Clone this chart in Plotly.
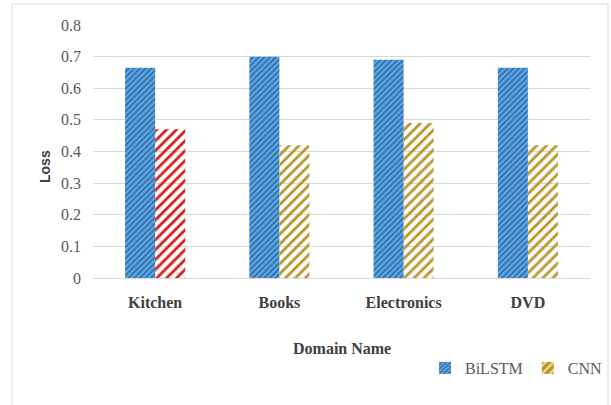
import plotly.graph_objects as go

categories = ["Kitchen", "Books", "Electronics", "DVD"]
bilstm = [0.665, 0.70, 0.69, 0.665]
cnn = [0.47, 0.42, 0.49, 0.42]
y_ticks = [0, 0.1, 0.2, 0.3, 0.4, 0.5, 0.6, 0.7, 0.8]
y_ticklabels = ["0", "0.1", "0.2", "0.3", "0.4", "0.5", "0.6", "0.7", "0.8"]

cnn_bg = ["#D41E1E", "#B8962C", "#B8962C", "#B8962C"]
cnn_fg = ["#F7C2B8", "#F3E09A", "#F3E09A", "#F3E09A"]

SERIF = "Liberation Serif"
SANS = "Liberation Sans"

W, H = 611, 405
ml, mr, mt, mb = 93, 21, 25, 127
pw, ph = W - ml - mr, H - mt - mb

def px_x(x):
    return (x - ml) / pw

def px_y(y):
    return (H - mb - y) / ph

blue_pattern = dict(shape="/", fgcolor="#2C69A6", bgcolor="#60A8E4",
                    size=4, solidity=0.4, fillmode="replace")
gold_pattern = dict(shape="/", fgcolor="#F3E09A", bgcolor="#B8962C",
                    size=7, solidity=0.4, fillmode="replace")

fig = go.Figure()
fig.add_trace(go.Bar(
    x=categories, y=bilstm, name="BiLSTM", offsetgroup="a",
    marker=dict(color="#60A8E4", line=dict(width=0), pattern=blue_pattern),
))
fig.add_trace(go.Bar(
    x=categories, y=cnn, name="CNN", offsetgroup="b", showlegend=False,
    marker=dict(color=cnn_bg, line=dict(width=0),
                pattern=dict(shape="/", fgcolor=cnn_fg, bgcolor=cnn_bg,
                             size=7, solidity=0.4, fillmode="replace")),
))
# legend entry for CNN (shows the series' usual gold colour)
fig.add_trace(go.Bar(
    x=categories, y=[None] * len(categories), name="CNN", offsetgroup="b",
    marker=dict(color="#B8962C", line=dict(width=0), pattern=gold_pattern),
    hoverinfo="skip",
))

fig.update_layout(
    width=W, height=H,
    margin=dict(l=ml, r=mr, t=mt, b=mb, autoexpand=False),
    paper_bgcolor="white", plot_bgcolor="white",
    barmode="group", bargap=0.516, bargroupgap=0,
    showlegend=True,
    legend=dict(orientation="h", x=px_x(608), xanchor="right",
                y=px_y(368), yanchor="middle",
                font=dict(family=SERIF, size=16, color="#595959"),
                itemwidth=30, tracegroupgap=0, bgcolor="rgba(0,0,0,0)"),
    xaxis=dict(showgrid=False, showline=False, ticks="",
               tickfont=dict(family=SERIF, size=16, color="#404040", weight="bold"),
               ticklabelstandoff=13),
    yaxis=dict(range=[0, 0.8], tickvals=y_ticks, ticktext=y_ticklabels,
               showgrid=True, gridcolor="#D9D9D9", gridwidth=1,
               zeroline=True, zerolinecolor="#D9D9D9", zerolinewidth=1,
               showline=False, ticks="",
               tickfont=dict(family=SERIF, size=16, color="#595959"),
               ticklabelstandoff=11),
    annotations=[
        dict(text="<b>Domain Name</b>", x=0.5, y=px_y(348), xref="paper", yref="paper",
             xanchor="center", yanchor="middle", showarrow=False,
             font=dict(family=SERIF, size=16, color="#404040")),
        dict(text="<b>Loss</b>", x=px_x(45), y=px_y(167), xref="paper", yref="paper",
             xanchor="center", yanchor="middle", showarrow=False, textangle=-90,
             font=dict(family=SANS, size=14, color="#404040")),
    ],
    shapes=[
        dict(type="rect", xref="paper", yref="paper",
             x0=px_x(12), x1=px_x(608), y0=px_y(410), y1=px_y(4),
             line=dict(color="#D9D9D9", width=1), fillcolor="rgba(0,0,0,0)", layer="below"),
    ],
)

fig.write_html("out.html")
